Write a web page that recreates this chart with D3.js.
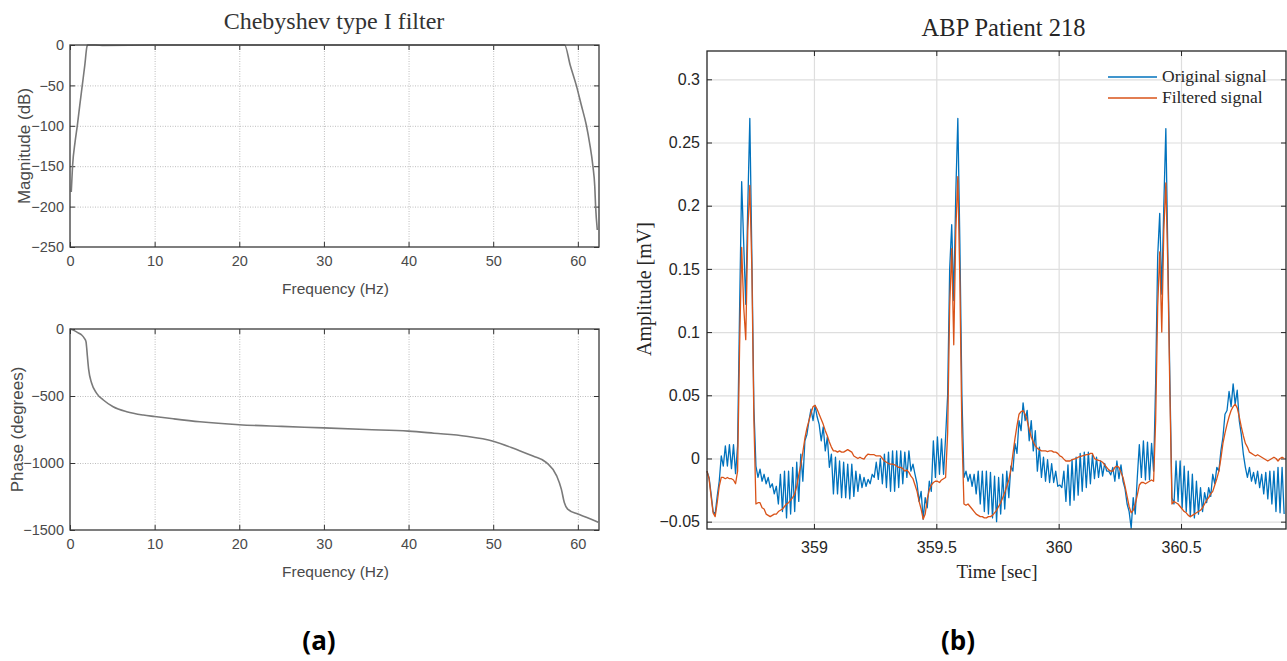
<!DOCTYPE html>
<html><head><meta charset="utf-8">
<script src="https://cdn.jsdelivr.net/npm/d3@7"></script>
<style>
body{margin:0;background:#fff;}
</style></head><body>
<svg id="c" width="1287" height="661"></svg>
<script>
// ---------------- DATA ----------------
// Chebyshev type I filter – magnitude response
const magFreq = [0.15, 0.3, 0.6, 0.86, 1.15, 1.45, 1.75, 2.0, 2.1, 3, 4, 10, 20, 30, 40, 50, 58.0, 58.44, 59.1, 59.82, 60.4, 61.0, 61.4, 61.78, 62.0, 62.1, 62.3];
const magDb   = [-182, -150, -120, -100, -75, -50, -25, -2, 0, 0, -0.5, 0, 0, 0, 0, 0, 0, 0, -25, -50, -74, -99, -122, -150, -175, -200, -229];
// Chebyshev type I filter – phase response
const phaseFreq = [0, 0.5, 1.0, 1.38, 1.7, 1.89, 1.97, 2.05, 2.2, 2.56, 3.15, 3.94, 5.1, 6.7, 8.66, 10, 12.2, 15.35, 20, 25, 30, 35, 40, 43, 46.8, 50, 52.7, 54.7, 56.3, 57.5, 58.05, 58.4, 58.8, 60, 61, 62, 62.4];
const phaseDeg  = [0, -12, -30, -45, -70, -94, -140, -200, -300, -405, -480, -530, -580, -617, -642, -653, -670, -692, -714, -727, -738, -750, -762, -778, -800, -837, -898, -948, -997, -1096, -1195, -1294, -1344, -1381, -1405, -1431, -1442];
const magXTicks = [0, 10, 20, 30, 40, 50, 60];
const magYTicks = [0, -50, -100, -150, -200, -250];
const phaseYTicks = [0, -500, -1000, -1500];

// ABP Patient 218 – samples at 120 Hz starting at t = 358.563 s
const abpStart = 358.563;
const abpRate = 120;
const abpOriginal = [
-0.010,-0.015,-0.028,-0.042,-0.044,-0.030,-0.018,0.002,-0.006,0.010,
-0.006,0.011,-0.008,0.011,-0.012,0.010,0.12,0.219,0.17,0.122,
0.20,0.269,0.16,0.04,-0.006,-0.015,-0.0085,-0.018,-0.0125,-0.020,
-0.015,-0.023,-0.020,-0.028,-0.022,-0.036,-0.0125,-0.042,-0.010,-0.047,
-0.010,-0.044,-0.007,-0.042,-0.003,-0.034,0.0035,-0.018,0.014,0.019,
0.030,0.039,0.030,0.042,0.033,0.027,0.014,0.025,0.006,0.017,
-0.007,0.0035,-0.028,0.001,-0.028,-0.002,-0.031,-0.003,-0.031,-0.0045,
-0.032,-0.0045,-0.030,-0.010,-0.026,-0.0125,-0.023,-0.015,-0.022,-0.0165,
-0.020,-0.0125,-0.015,-0.003,-0.0165,0.000,-0.020,0.0035,-0.023,0.005,
-0.026,0.006,-0.026,0.006,-0.023,0.006,-0.020,0.005,-0.015,0.006,
-0.010,-0.0045,-0.0125,-0.020,-0.034,-0.026,-0.048,-0.031,-0.039,-0.018,
-0.026,0.014,-0.015,0.017,-0.0125,0.0155,-0.0125,0.017,0.05,0.15,
0.185,0.125,0.21,0.269,0.17,0.05,-0.015,-0.010,-0.018,-0.0125,
-0.022,-0.0125,-0.028,-0.010,-0.036,-0.010,-0.042,-0.010,-0.044,-0.011,
-0.047,-0.014,-0.050,-0.015,-0.044,-0.0125,-0.040,-0.010,-0.031,-0.006,
-0.010,0.012,0.004,0.030,0.022,0.044,0.030,0.038,0.014,0.030,
0.006,0.022,-0.010,0.009,-0.015,0.001,-0.018,-0.001,-0.019,-0.004,
-0.019,-0.010,-0.022,-0.021,-0.023,-0.010,-0.034,-0.005,-0.037,-0.001,
-0.033,0.001,-0.029,0.004,-0.026,0.005,-0.023,0.005,-0.020,0.003,
-0.016,0.001,-0.015,-0.002,-0.014,-0.004,-0.010,-0.010,-0.013,-0.007,
-0.018,-0.002,-0.016,-0.005,-0.018,-0.024,-0.036,-0.042,-0.055,-0.031,
-0.044,-0.015,0.011,-0.015,0.014,-0.017,0.013,-0.017,0.012,-0.010,
0.06,0.16,0.194,0.13,0.20,0.261,0.16,0.06,-0.031,-0.036,
-0.002,-0.034,-0.002,-0.039,-0.006,-0.042,-0.010,-0.046,-0.0125,-0.047,
-0.018,-0.044,-0.023,-0.042,-0.027,-0.035,-0.023,-0.030,-0.0125,-0.020,
-0.007,-0.010,0.006,0.017,0.035,0.038,0.053,0.041,0.059,0.043,
0.054,0.030,0.019,0.0035,-0.007,-0.015,-0.007,-0.018,-0.011,-0.020,
-0.010,-0.023,-0.0125,-0.028,-0.011,-0.032,-0.010,-0.036,-0.010,-0.042,
-0.007,-0.043,-0.007,-0.044
];
const abpFiltered = [
-0.010,-0.016,-0.030,-0.043,-0.046,-0.035,-0.022,-0.015,-0.015,-0.016,
-0.015,-0.016,-0.016,-0.017,-0.020,-0.010,0.090,0.167,0.12,0.094,
0.18,0.216,0.15,0.03,-0.036,-0.035,-0.035,-0.039,-0.040,-0.044,
-0.045,-0.046,-0.045,-0.044,-0.044,-0.042,-0.041,-0.040,-0.038,-0.036,
-0.035,-0.033,-0.031,-0.028,-0.022,-0.013,-0.005,0.005,0.016,0.024,
0.030,0.036,0.041,0.042,0.039,0.035,0.031,0.027,0.022,0.018,
0.013,0.009,0.006,0.006,0.005,0.006,0.005,0.005,0.006,0.007,
0.006,0.005,0.002,0.001,0.000,0.001,0.000,-0.0005,0.002,0.0035,
0.003,0.003,0.003,0.002,0.002,0.002,0.000,-0.002,-0.003,-0.004,
-0.0045,-0.0045,-0.005,-0.006,-0.007,-0.007,-0.008,-0.010,-0.009,-0.011,
-0.014,-0.016,-0.021,-0.026,-0.034,-0.040,-0.048,-0.044,-0.032,-0.025,
-0.021,-0.019,-0.018,-0.018,-0.019,-0.017,-0.016,-0.015,0.02,0.12,
0.166,0.09,0.18,0.223,0.14,0.02,-0.036,-0.037,-0.036,-0.038,
-0.040,-0.042,-0.044,-0.045,-0.046,-0.046,-0.047,-0.047,-0.046,-0.046,
-0.045,-0.043,-0.041,-0.038,-0.035,-0.031,-0.027,-0.022,-0.017,-0.009,
0.0035,0.0155,0.026,0.035,0.037,0.038,0.035,0.030,0.023,0.017,
0.013,0.010,0.008,0.007,0.006,0.006,0.006,0.0055,0.006,0.006,
0.005,0.005,0.004,0.002,0.0013,-0.0005,-0.002,-0.002,-0.002,-0.001,
-0.0005,0.000,0.001,0.0015,0.002,0.0025,0.003,0.003,0.004,0.004,
0.000,-0.001,-0.0015,-0.002,-0.003,-0.005,-0.007,-0.009,-0.010,-0.010,
-0.007,-0.006,-0.007,-0.011,-0.015,-0.022,-0.030,-0.038,-0.043,-0.041,
-0.036,-0.029,-0.021,-0.019,-0.019,-0.020,-0.019,-0.018,-0.017,-0.018,
0.03,0.12,0.1635,0.10,0.18,0.218,0.15,0.05,-0.036,-0.034,
-0.035,-0.036,-0.038,-0.040,-0.042,-0.043,-0.045,-0.046,-0.045,-0.044,
-0.043,-0.042,-0.041,-0.039,-0.036,-0.033,-0.031,-0.028,-0.026,-0.021,
-0.016,-0.010,0.000,0.012,0.020,0.027,0.033,0.038,0.041,0.043,
0.040,0.033,0.025,0.018,0.012,0.009,0.005,0.004,0.003,0.002,
0.003,0.002,0.001,0.000,-0.001,-0.002,-0.001,0.000,0.001,0.000,
-0.002,0.000,0.001,0.000
];
const abpXTicks = [359, 359.5, 360, 360.5];
const abpYTicks = [-0.05, 0, 0.05, 0.1, 0.15, 0.2, 0.25, 0.3];
const legendLabels = ["Original signal", "Filtered signal"];

// ---------------- DRAW ----------------
const svg = d3.select("#c");
const SANS = "'Liberation Sans', Arial, sans-serif";
const SERIF = "'Liberation Serif', 'Times New Roman', serif";

function styleAxis(g, color, size, fontColor, family) {
  g.select(".domain").remove();
  g.selectAll(".tick line").attr("stroke", color).attr("stroke-width", 1);
  g.selectAll(".tick text").attr("fill", fontColor).attr("font-size", size).attr("font-family", family);
}

function leftPanel(opts) {
  const {L, R, T, B, yDomain, yTicks, xs, ys, ylabel, ylabelX} = opts;
  const x = d3.scaleLinear().domain([0, 62.5]).range([L, R]);
  const y = d3.scaleLinear().domain(yDomain).range([B, T]);
  const g = svg.append("g");
  // grid
  g.append("g").attr("transform", `translate(0,${B})`)
    .call(d3.axisBottom(x).tickValues(magXTicks.filter(v => v > 0)).tickSize(-(B - T)).tickFormat(""))
    .call(a => { a.select(".domain").remove(); a.selectAll("line").attr("stroke", "#bdbdbd").attr("stroke-dasharray", "1,1.5"); });
  g.append("g").attr("transform", `translate(${L},0)`)
    .call(d3.axisLeft(y).tickValues(yTicks.filter(v => v !== yDomain[0] && v !== yDomain[1])).tickSize(-(R - L)).tickFormat(""))
    .call(a => { a.select(".domain").remove(); a.selectAll("line").attr("stroke", "#bdbdbd").attr("stroke-dasharray", "1,1.5"); });
  // axes with inward ticks
  g.append("g").attr("transform", `translate(0,${B})`)
    .call(d3.axisBottom(x).tickValues(magXTicks).tickSize(-5).tickPadding(9).tickFormat(d3.format("d")))
    .call(a => styleAxis(a, "#333", "14.5px", "#4a4a4a", SANS));
  g.append("g").attr("transform", `translate(0,${T})`)
    .call(d3.axisTop(x).tickValues(magXTicks).tickSize(-5).tickFormat(""))
    .call(a => styleAxis(a, "#333", "14px", "#4a4a4a", SANS));
  g.append("g").attr("transform", `translate(${L},0)`)
    .call(d3.axisLeft(y).tickValues(yTicks).tickSize(-5).tickPadding(6).tickFormat(d3.format("d")))
    .call(a => styleAxis(a, "#333", "14.5px", "#4a4a4a", SANS));
  g.append("g").attr("transform", `translate(${R},0)`)
    .call(d3.axisRight(y).tickValues(yTicks).tickSize(-5).tickFormat(""))
    .call(a => styleAxis(a, "#333", "14px", "#4a4a4a", SANS));
  // curve
  const line = d3.line().x(d => x(d[0])).y(d => y(d[1])).curve(d3.curveMonotoneX);
  g.append("path").datum(xs.map((v, i) => [v, ys[i]]))
    .attr("d", line).attr("fill", "none").attr("stroke", "#7a7a7a").attr("stroke-width", 1.6);
  // box
  g.append("rect").attr("x", L).attr("y", T).attr("width", R - L).attr("height", B - T)
    .attr("fill", "none").attr("stroke", "#3a3a3a").attr("stroke-width", 1.3);
  // labels
  g.append("text").attr("x", (L + R) / 2 + 1).attr("y", B + 47).attr("text-anchor", "middle")
    .attr("font-family", SANS).attr("font-size", "15.5px").attr("fill", "#4a4a4a").text("Frequency (Hz)");
  g.append("text").attr("transform", `translate(${ylabelX},${(T + B) / 2}) rotate(-90)`)
    .attr("text-anchor", "middle").attr("font-family", SANS).attr("font-size", "17px").attr("fill", "#4a4a4a").text(ylabel);
}

leftPanel({L: 70, R: 599, T: 45, B: 247, yDomain: [-250, 0], yTicks: magYTicks,
  xs: magFreq, ys: magDb, ylabel: "Magnitude (dB)", ylabelX: 30});
leftPanel({L: 70, R: 599, T: 329, B: 530, yDomain: [-1500, 0], yTicks: phaseYTicks,
  xs: phaseFreq, ys: phaseDeg, ylabel: "Phase (degrees)", ylabelX: 23});

svg.append("text").attr("x", 334).attr("y", 29).attr("text-anchor", "middle")
  .attr("font-family", SERIF).attr("font-size", "24px").attr("fill", "#333").text("Chebyshev type I filter");

// ---- right panel ----
{
  const L = 707, R = 1286, T = 51, B = 529;
  const x = d3.scaleLinear().domain([358.563, 360.929]).range([L, R]);
  const y = d3.scaleLinear().domain([-0.0558, 0.3224]).range([B, T]);
  const g = svg.append("g");
  g.append("g").attr("transform", `translate(0,${B})`)
    .call(d3.axisBottom(x).tickValues(abpXTicks).tickSize(-(B - T)).tickFormat(""))
    .call(a => { a.select(".domain").remove(); a.selectAll("line").attr("stroke", "#dedede").attr("stroke-width", 1.2); });
  g.append("g").attr("transform", `translate(${L},0)`)
    .call(d3.axisLeft(y).tickValues(abpYTicks).tickSize(-(R - L)).tickFormat(""))
    .call(a => { a.select(".domain").remove(); a.selectAll("line").attr("stroke", "#dedede").attr("stroke-width", 1.2); });

  const fmtY = v => v === 0 ? "0" : d3.format("")(+v.toFixed(2));
  g.append("g").attr("transform", `translate(0,${B})`)
    .call(d3.axisBottom(x).tickValues(abpXTicks).tickSize(-5).tickPadding(13).tickFormat(d => String(d)))
    .call(a => styleAxis(a, "#262626", "16px", "#262626", SANS));
  g.append("g").attr("transform", `translate(0,${T})`)
    .call(d3.axisTop(x).tickValues(abpXTicks).tickSize(-5).tickFormat(""))
    .call(a => styleAxis(a, "#262626", "16px", "#262626", SANS));
  g.append("g").attr("transform", `translate(${L},0)`)
    .call(d3.axisLeft(y).tickValues(abpYTicks).tickSize(-5).tickPadding(7).tickFormat(fmtY))
    .call(a => styleAxis(a, "#262626", "16px", "#262626", SANS));
  g.append("g").attr("transform", `translate(${R},0)`)
    .call(d3.axisRight(y).tickValues(abpYTicks).tickSize(-5).tickFormat(""))
    .call(a => styleAxis(a, "#262626", "16px", "#262626", SANS));

  const tOf = i => abpStart + i / abpRate;
  const line = d3.line().x((d, i) => x(tOf(i))).y(d => y(d));
  g.append("path").datum(abpOriginal).attr("d", line).attr("fill", "none")
    .attr("stroke", "#0072BD").attr("stroke-width", 1.3).attr("stroke-linejoin", "round");
  g.append("path").datum(abpFiltered).attr("d", line).attr("fill", "none")
    .attr("stroke", "#D95319").attr("stroke-width", 1.3).attr("stroke-linejoin", "round");

  g.append("rect").attr("x", L).attr("y", T).attr("width", R - L).attr("height", B - T)
    .attr("fill", "none").attr("stroke", "#262626").attr("stroke-width", 1.3);

  // legend
  const colors = ["#0072BD", "#D95319"];
  legendLabels.forEach((lab, k) => {
    const yy = 77 + k * 21;
    g.append("line").attr("x1", 1108).attr("x2", 1157).attr("y1", yy).attr("y2", yy)
      .attr("stroke", colors[k]).attr("stroke-width", 1.3);
    g.append("text").attr("x", 1162).attr("y", yy + 5).attr("font-family", SERIF)
      .attr("font-size", "17.5px").attr("fill", "#262626").text(lab);
  });

  g.append("text").attr("x", (L + R) / 2 + 7).attr("y", 36).attr("text-anchor", "middle")
    .attr("font-family", SERIF).attr("font-size", "24.5px").attr("fill", "#262626").text("ABP Patient 218");
  g.append("text").attr("x", 997).attr("y", 578).attr("text-anchor", "middle")
    .attr("font-family", SERIF).attr("font-size", "19px").attr("fill", "#262626").text("Time [sec]");
  g.append("text").attr("transform", `translate(651,289) rotate(-90)`).attr("text-anchor", "middle")
    .attr("font-family", SERIF).attr("font-size", "20px").attr("fill", "#262626").text("Amplitude [mV]");
}

// captions
svg.append("text").attr("x", 319).attr("y", 650).attr("text-anchor", "middle")
  .attr("font-family", "'Open Sans', sans-serif").attr("font-weight", "bold").attr("font-size", "26px").attr("fill", "#000").text("(a)");
svg.append("text").attr("x", 958).attr("y", 650).attr("text-anchor", "middle")
  .attr("font-family", "'Open Sans', sans-serif").attr("font-weight", "bold").attr("font-size", "26px").attr("fill", "#000").text("(b)");
</script></body></html>
